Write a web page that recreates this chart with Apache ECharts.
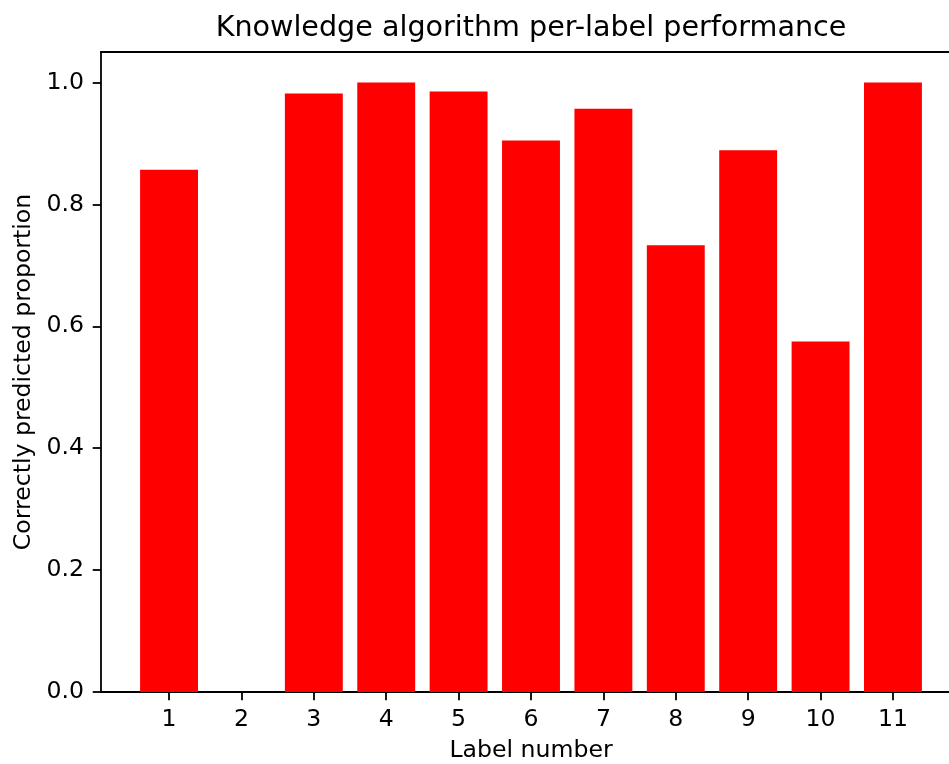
<!DOCTYPE html>
<html>
<head>
<meta charset="utf-8">
<title>Knowledge algorithm per-label performance</title>
<script src="https://cdn.jsdelivr.net/npm/echarts@6/dist/echarts.min.js"></script>
<style>
  html, body { margin: 0; padding: 0; background: #fff; }
  #chart { width: 949px; height: 764px; }
</style>
</head>
<body>
<div id="chart"></div>
<script>
// Label numbers and the proportion of samples predicted correctly for each
const labels = [1, 2, 3, 4, 5, 6, 7, 8, 9, 10, 11];
const proportions = [0.857, 0.0, 0.982, 1.0, 0.985, 0.905, 0.957, 0.733, 0.889, 0.575, 1.0];
const yTicks = [0.0, 0.2, 0.4, 0.6, 0.8, 1.0];

// Axis view limits (bars are 0.8 wide, 5% padding around the data)
const X_MIN = 0.06, X_MAX = 11.94;
const Y_MIN = 0, Y_MAX = 1.05;
const BAR_WIDTH_UNITS = 0.8;

// The plot box runs a little past the right edge of the canvas
const GRID = { left: 101, top: 52, width: 860, height: 640 };
const FONT = 'DejaVu Sans';
const INK = '#000';
const LINE_W = 1.8;

const chart = echarts.init(document.getElementById('chart'), null, { renderer: 'canvas' });

const barPx = BAR_WIDTH_UNITS * GRID.width / (X_MAX - X_MIN);

function spine() {
  return { show: true, lineStyle: { color: INK, width: LINE_W } };
}
function ticks(values) {
  return { show: true, inside: false, length: 8.3, customValues: values,
           lineStyle: { color: INK, width: LINE_W } };
}

chart.setOption({
  backgroundColor: '#fff',
  animation: false,
  title: {
    text: 'Knowledge algorithm per-label performance',
    left: GRID.left + GRID.width / 2 - 5,
    textAlign: 'center',
    top: 9,
    textStyle: { fontFamily: FONT, fontSize: 28.6, fontWeight: 'normal', color: INK }
  },
  grid: {
    left: GRID.left, top: GRID.top, width: GRID.width, height: GRID.height,
    outerBoundsMode: 'none', containLabel: false, show: false
  },
  xAxis: [{
    type: 'value',
    min: X_MIN, max: X_MAX,
    name: 'Label number',
    nameLocation: 'middle',
    nameGap: 47,
    nameTextStyle: { fontFamily: FONT, fontSize: 23.6, color: INK },
    axisLine: spine(),
    axisTick: ticks(labels),
    axisLabel: {
      customValues: labels, margin: 16,
      fontFamily: FONT, fontSize: 23.6, color: INK,
      formatter: v => String(v)
    },
    splitLine: { show: false }
  }, {
    // top edge of the plot box
    type: 'value', position: 'top',
    min: X_MIN, max: X_MAX,
    axisLine: spine(),
    axisTick: { show: false }, axisLabel: { show: false }, splitLine: { show: false }
  }],
  yAxis: {
    type: 'value',
    min: Y_MIN, max: Y_MAX,
    name: 'Correctly predicted proportion',
    nameLocation: 'middle',
    nameGap: 62,
    nameTextStyle: { fontFamily: FONT, fontSize: 23.6, color: INK },
    axisLine: spine(),
    axisTick: ticks(yTicks),
    axisLabel: {
      customValues: yTicks, margin: 17,
      fontFamily: FONT, fontSize: 23.6, color: INK,
      formatter: v => v.toFixed(1)
    },
    splitLine: { show: false }
  },
  series: [{
    type: 'bar',
    xAxisIndex: 0,
    data: labels.map((l, i) => [l, proportions[i]]),
    barWidth: barPx,
    itemStyle: { color: '#ff0000' },
    emphasis: { disabled: true }
  }]
});
</script>
</body>
</html>
